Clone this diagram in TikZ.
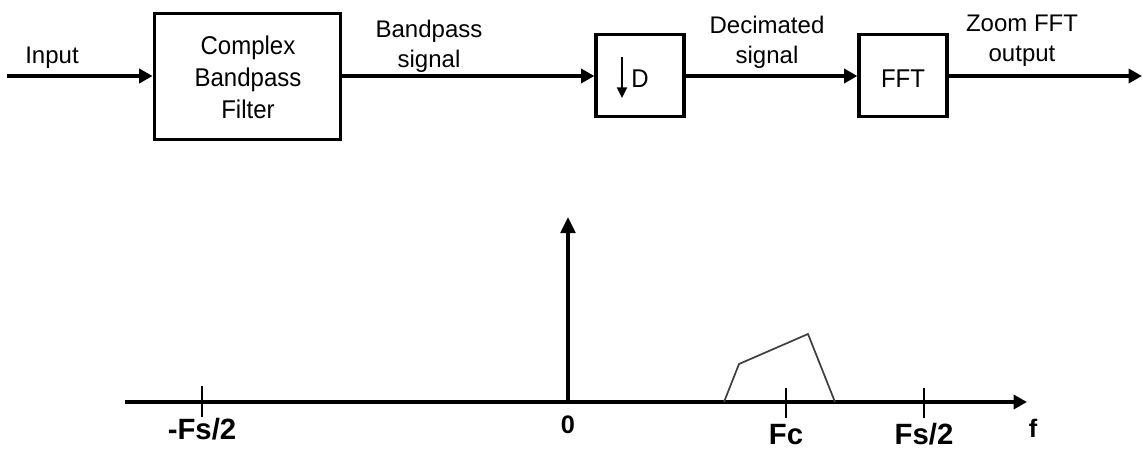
\documentclass[tikz,border=0pt]{standalone}
\usepackage{fontspec}
\usepackage{graphicx}
\setmainfont{Liberation Sans}
\usetikzlibrary{arrows.meta}
\newcommand{\vstretch}[1]{\scalebox{1}[1.07]{#1}}
\tikzset{
  blk/.style={draw, line width=2.4pt, inner sep=0pt},
  sig/.style={line width=2.5pt, -{Triangle[length=10pt,width=10.5pt]}},
  lbl/.style={font=\fontsize{18}{22.5}\selectfont, align=center, inner sep=0pt},
  axlbl/.style={font=\fontsize{22}{24}\selectfont\bfseries, inner sep=0pt, anchor=base},
  axlbls/.style={font=\fontsize{19}{22}\selectfont\bfseries, inner sep=0pt, anchor=base},
  tickln/.style={line width=1.2pt},
}
\begin{document}
\begin{tikzpicture}[x=0.75pt,y=-0.75pt]
\useasboundingbox (0,0) rectangle (1143,450);
% top chain
\coordinate (in) at (7,76);
\node[blk, minimum width=140pt, minimum height=94pt] (bpf) at (247.5,76.5) {};
\node[lbl] (bpftxt) at (248,80) {\vstretch{\begin{tabular}{@{}c@{}}Complex\\Bandpass\\Filter\end{tabular}}};
\node[blk, minimum width=66pt, minimum height=62pt] (dec) at (640,75.5) {};
\node[blk, minimum width=66pt, minimum height=62pt] (fft) at (903,75.5) {};
\node[lbl, anchor=base] (ffttxt) at (903,87) {\vstretch{FFT}};
\coordinate (out) at (1142,76);
\draw[sig] (in) -- (bpf.west |- in);
\draw[sig] (bpf.east |- in) -- (dec.west |- in);
\draw[sig] (dec.east |- in) -- (fft.west |- in);
\draw[sig] (fft.east |- in) -- (out);
\node[lbl, anchor=base] (inlbl) at (52,63) {Input};
\node[lbl] (bplbl) at (429,46) {Bandpass\\signal};
\node[lbl] (declbl) at (767,42) {Decimated\\signal};
\node[lbl] (outlbl) at (1022,40.5) {Zoom FFT\\output};
% decimator symbol
\coordinate (da) at (622,57);
\coordinate (db) at (622,98);
\draw[line width=1.6pt, -{Triangle[length=8pt,width=7.5pt]}] (da) -- (db);
\node[lbl, anchor=base] (dtxt) at (640,87) {\vstretch{D}};
% spectrum
\coordinate (x0) at (125,402);
\coordinate (x1) at (1027,402);
\coordinate (org) at (568,402);
\coordinate (ytop) at (568,217);
\draw[sig] (x0) -- (x1);
\draw[sig, -{Triangle[length=12pt,width=11pt]}] (org) -- (ytop);
\coordinate (t1a) at (202,386); \coordinate (t1b) at (202,417);
\coordinate (t2a) at (786,388); \coordinate (t2b) at (786,418);
\coordinate (t3a) at (924,388); \coordinate (t3b) at (924,418);
\draw[tickln] (t1a) -- (t1b);
\draw[tickln] (t2a) -- (t2b);
\draw[tickln] (t3a) -- (t3b);
\node[axlbl] (lfs) at (202,439) {-Fs/2};
\node[axlbls] (lzero) at (568,433) {0};
\node[axlbl] (lfc) at (786,444) {Fc};
\node[axlbl] (lfs2) at (924,444) {Fs/2};
\node[axlbls] (lf) at (1033,437) {f};
% band shape
\coordinate (p1) at (724,402);
\coordinate (p2) at (739,364);
\coordinate (p3) at (808,334);
\coordinate (p4) at (835,402);
\draw[line width=1.3pt, black!75, line join=round] (p1) -- (p2) -- (p3) -- (p4);
\end{tikzpicture}
\end{document}
